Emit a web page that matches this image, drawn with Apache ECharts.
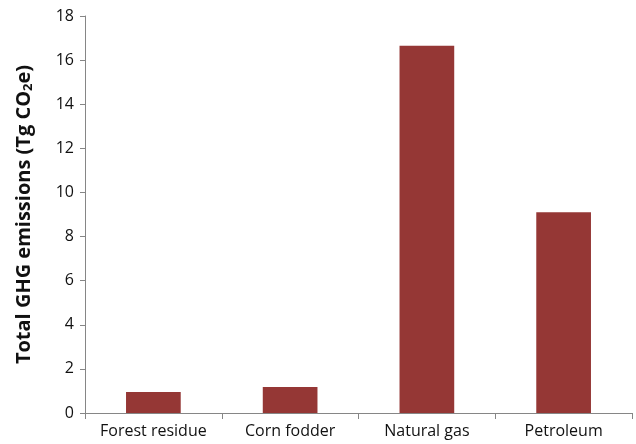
<!DOCTYPE html>
<html><head><meta charset="utf-8">
<script src="https://cdn.jsdelivr.net/npm/echarts@6/dist/echarts.min.js"></script>
<style>html,body{margin:0;padding:0;background:#fff}#c{width:636px;height:444px}</style>
</head><body><div id="c"></div>
<script>
const categories = ["Forest residue", "Corn fodder", "Natural gas", "Petroleum"];
const emissions = [0.95, 1.18, 16.65, 9.1];
const yTicks = [0, 2, 4, 6, 8, 10, 12, 14, 16, 18];

const chart = echarts.init(document.getElementById('c'), null, {renderer: 'canvas'});
const font = "'Open Sans', 'Noto Sans', sans-serif";
chart.setOption({
  animation: false,
  backgroundColor: '#ffffff',
  grid: {left: 85, right: 4, top: 16, bottom: 31},
  xAxis: {
    type: 'category',
    data: categories,
    axisLine: {lineStyle: {color: '#868686', width: 1}},
    axisTick: {show: true, length: 6, lineStyle: {color: '#868686'}},
    axisLabel: {color: '#111111', fontSize: 16, fontFamily: font, margin: 10, interval: 0, hideOverlap: false}
  },
  yAxis: {
    type: 'value',
    min: yTicks[0], max: yTicks[yTicks.length - 1], interval: 2,
    axisLine: {show: true, lineStyle: {color: '#868686', width: 1}},
    axisTick: {show: true, length: 5, lineStyle: {color: '#868686'}},
    splitLine: {show: false},
    axisLabel: {color: '#111111', fontSize: 16, fontFamily: font, margin: 11},
    name: 'Total GHG emissions (Tg CO{sub|2}e)',
    nameLocation: 'middle',
    nameGap: 50,
    nameRotate: 90,
    nameTextStyle: {
      color: '#111111', fontSize: 20, fontWeight: 'bold', fontFamily: font,
      rich: {sub: {fontSize: 13, fontWeight: 'bold', fontFamily: font, color: '#111111', verticalAlign: 'bottom', padding: [8, 0, 0, 0]}}
    }
  },
  series: [{
    type: 'bar',
    data: emissions,
    barWidth: '40%',
    itemStyle: {color: '#953735'}
  }]
});
</script></body></html>
